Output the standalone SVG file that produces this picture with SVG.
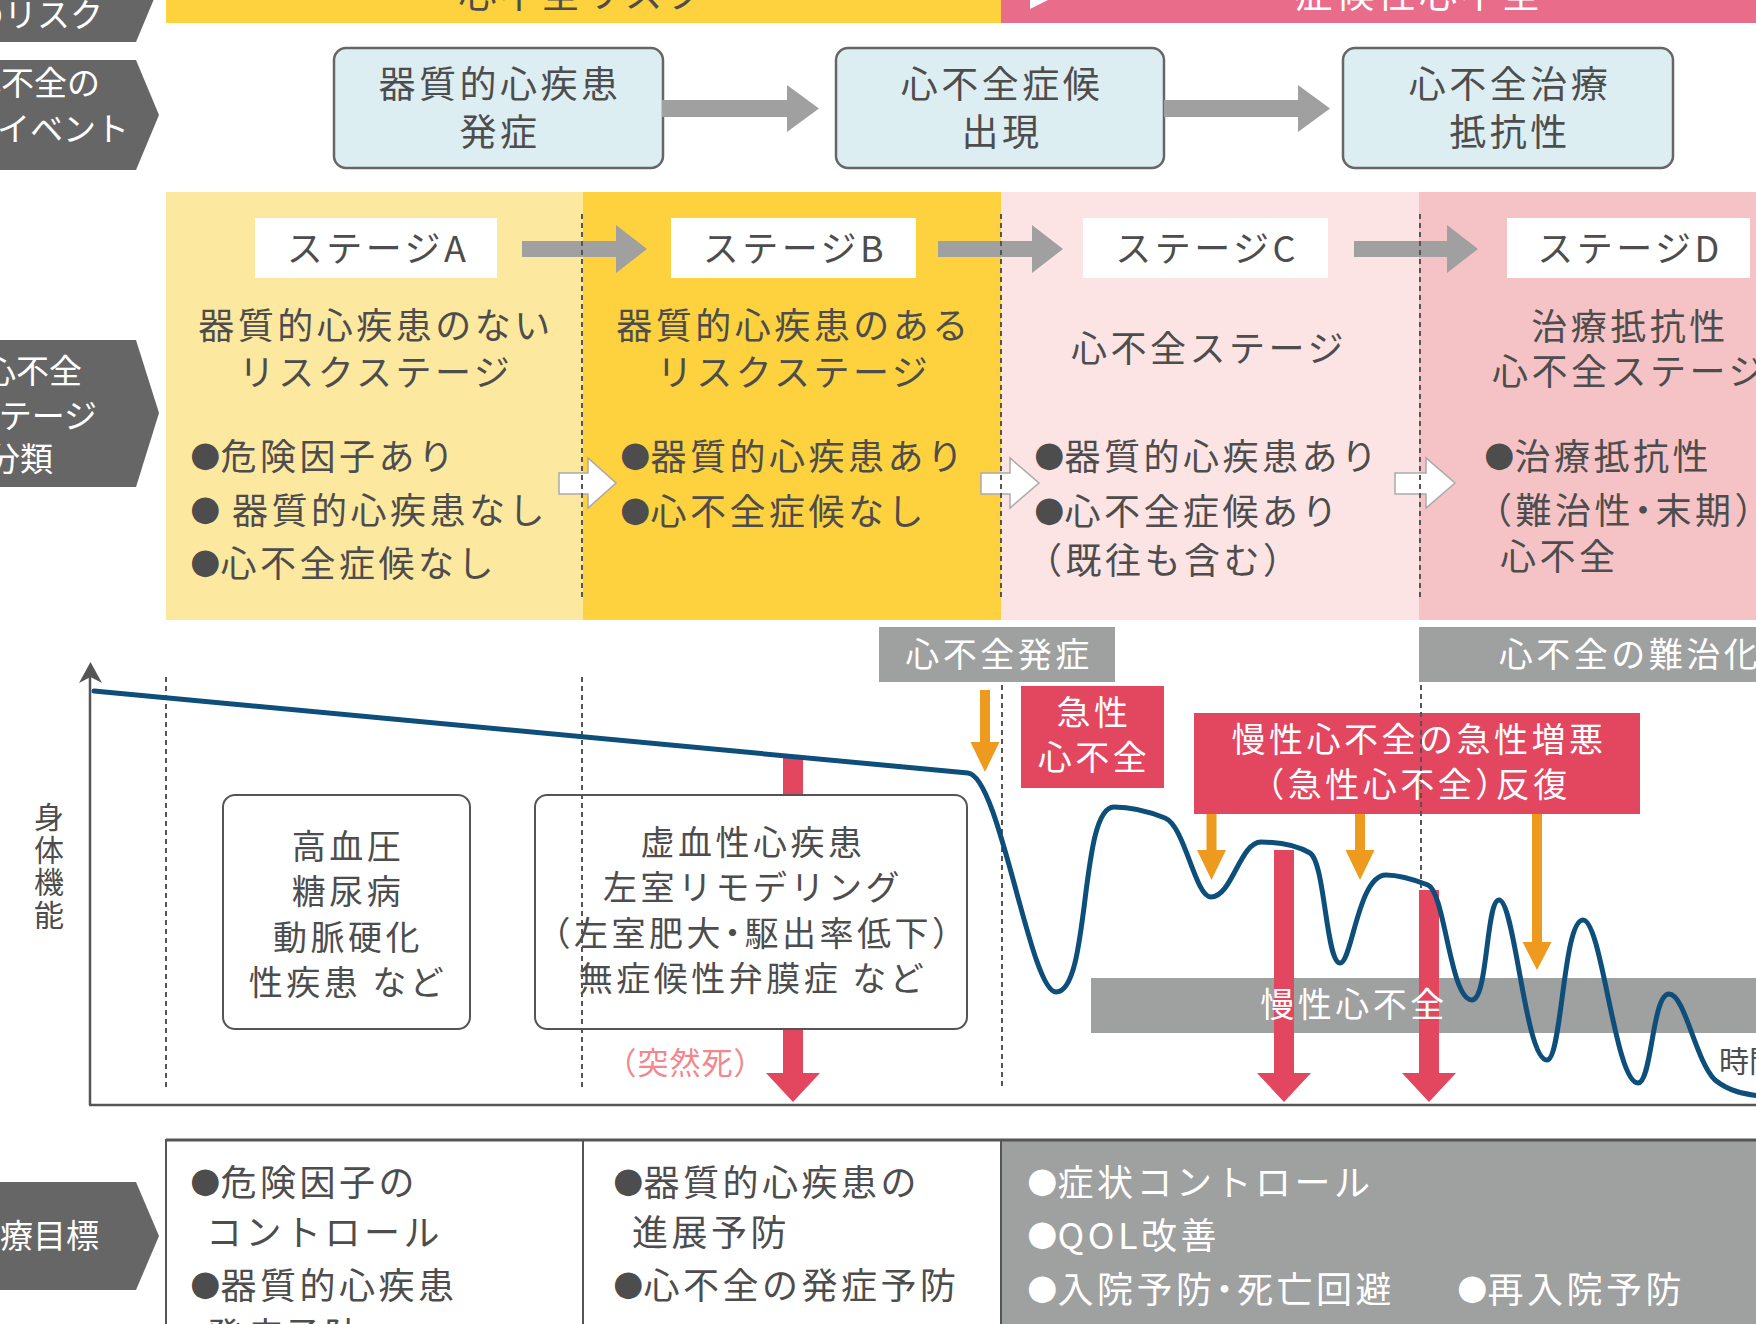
<svg xmlns="http://www.w3.org/2000/svg" width="1756" height="1324" viewBox="0 0 1756 1324">
<defs>
<style>
text{font-family:"Noto Sans CJK JP","Noto Sans CJK SC",sans-serif;fill:#4d4d4d}
.f37{font-size:37px;letter-spacing:3.5px}
.f36{font-size:36px;letter-spacing:3.5px}
.f34{font-size:34px;letter-spacing:3.5px}
.f30{font-size:30px}
.f33{font-size:33px}
.c{text-anchor:middle}
.e{text-anchor:end}
.w{fill:#fff}
.halt{font-feature-settings:"halt"}
.bl{font-family:"DejaVu Sans",sans-serif;font-size:35px;letter-spacing:0px}
.pent{fill:#666}
.evbox{fill:#ddeef3;stroke:#666;stroke-width:2.5}
.lbl{fill:#fff}
.garrow{fill:#a0a0a0}
.warrow{fill:#fff;stroke:#aaa;stroke-width:1.5}
.dot{stroke:#555;stroke-width:2;stroke-dasharray:5 4;fill:none}
.gband{fill:#9fa0a0}
.red{fill:#e3475f}
.org{fill:#ee9a1e}
.gbox{fill:#fff;stroke:#555;stroke-width:2}
</style>
</defs>

<!-- top bars -->
<g id="top-bars">
<rect x="166" y="0" width="835" height="23" fill="#fdd23e"/>
<rect x="1001" y="0" width="755" height="23" fill="#ea6c8b"/>
<polygon points="1030,0 1048,0 1030,9" fill="#fff"/>
<text class="f36 c" x="583" y="7" style="font-size:38px">心不全リスク</text>
<text class="f36 c w" x="1419" y="7" style="font-size:38px">症候性心不全</text>
</g>

<!-- left pentagon labels -->
<g id="label-risk">
<polygon class="pent" points="-10,-68 136,-68 159,-13 136,42 -10,42"/>
<text class="f33 e w" x="103" y="27">心不全のリスク</text>
</g>
<g id="label-event">
<polygon class="pent" points="-10,60 136,60 159,115 136,170 -10,170"/>
<text class="f33 e w" x="100" y="95">心不全の</text>
<text class="f33 e w" x="129" y="141">イベント</text>
</g>
<g id="label-stage">
<polygon class="pent" points="-10,340 136,340 159,413 136,487 -10,487"/>
<text class="f33 e w" x="82" y="383">心不全</text>
<text class="f33 e w" x="97" y="428">ステージ</text>
<text class="f33 e w" x="53" y="471">分類</text>
</g>
<g id="label-goal">
<polygon class="pent" points="-10,1182 136,1182 159,1236 136,1290 -10,1290"/>
<text class="f33 e w" x="99" y="1248">治療目標</text>
</g>

<!-- event boxes -->
<g id="event-1">
<rect class="evbox" x="334" y="48" width="329" height="120" rx="12"/>
<text class="f37 c" x="500" y="98">器質的心疾患</text>
<text class="f37 c" x="500" y="146">発症</text>
</g>
<g id="event-2">
<rect class="evbox" x="836" y="48" width="328" height="120" rx="12"/>
<text class="f37 c" x="1002" y="98">心不全症候</text>
<text class="f37 c" x="1002" y="146">出現</text>
</g>
<g id="event-3">
<rect class="evbox" x="1343" y="48" width="330" height="120" rx="12"/>
<text class="f37 c" x="1510" y="98">心不全治療</text>
<text class="f37 c" x="1510" y="146">抵抗性</text>
</g>

<!-- stage panels -->
<g id="stage-A">
<rect x="166" y="192" width="417" height="428" fill="#fde8a0"/>
<rect class="lbl" x="255" y="218" width="242" height="60"/>
<text class="f36 c" x="378" y="262">ステージA</text>
<text class="f36 c" x="376" y="339">器質的心疾患のない</text>
<text class="f36 c" x="376" y="386">リスクステージ</text>
<text class="f36" x="190" y="470"><tspan class="bl" dy="-4">●</tspan><tspan dy="4">危険因子あり</tspan></text>
<text class="f36" x="190" y="524"><tspan class="bl" dy="-4">●</tspan><tspan dy="4"> 器質的心疾患なし</tspan></text>
<text class="f36" x="190" y="577"><tspan class="bl" dy="-4">●</tspan><tspan dy="4">心不全症候なし</tspan></text>
</g>
<g id="stage-B">
<rect x="583" y="192" width="418" height="428" fill="#fdd23e"/>
<rect class="lbl" x="671" y="218" width="245" height="60"/>
<text class="f36 c" x="795" y="262">ステージB</text>
<text class="f36 c" x="794" y="339">器質的心疾患のある</text>
<text class="f36 c" x="794" y="386">リスクステージ</text>
<text class="f36" x="620" y="470"><tspan class="bl" dy="-4">●</tspan><tspan dy="4">器質的心疾患あり</tspan></text>
<text class="f36" x="620" y="525"><tspan class="bl" dy="-4">●</tspan><tspan dy="4">心不全症候なし</tspan></text>
</g>
<g id="stage-C">
<rect x="1001" y="192" width="418" height="428" fill="#fce4e5"/>
<rect class="lbl" x="1083" y="218" width="245" height="60"/>
<text class="f36 c" x="1207" y="262">ステージC</text>
<text class="f36 c" x="1209" y="362">心不全ステージ</text>
<text class="f36" x="1034" y="470"><tspan class="bl" dy="-4">●</tspan><tspan dy="4">器質的心疾患あり</tspan></text>
<text class="f36" x="1034" y="525"><tspan class="bl" dy="-4">●</tspan><tspan dy="4">心不全症候あり</tspan></text>
<text class="f36 halt" x="1044" y="574">（既往も含む）</text>
</g>
<g id="stage-D">
<rect x="1419" y="192" width="337" height="428" fill="#f5c3c6"/>
<rect class="lbl" x="1507" y="218" width="243" height="60"/>
<text class="f36 c" x="1630" y="262">ステージD</text>
<text class="f36 c" x="1630" y="340">治療抵抗性</text>
<text class="f36 c" x="1630" y="385">心不全ステージ</text>
<text class="f36" x="1484" y="470"><tspan class="bl" dy="-4">●</tspan><tspan dy="4">治療抵抗性</tspan></text>
<text class="f36 halt" x="1494" y="524">（難治性・末期）</text>
<text class="f36" x="1500" y="570">心不全</text>
</g>

<!-- graph boxes -->
<g id="box-risk">
<rect class="gbox" x="223" y="795" width="247" height="234" rx="12"/>
<text class="f34 c" x="348" y="859">高血圧</text>
<text class="f34 c" x="348" y="904">糖尿病</text>
<text class="f34 c" x="348" y="950">動脈硬化</text>
<text class="f34 c" x="348" y="995">性疾患 など</text>
</g>

<g id="red-arrow-sudden">
<path class="red" d="M783,758 H803 V1073 H820 L793,1102 L766,1073 H783 Z"/>
</g>

<g id="box-structural">
<rect class="gbox" x="535" y="795" width="432" height="234" rx="12"/>
<text class="f34 c" x="753" y="855">虚血性心疾患</text>
<text class="f34 c" x="753" y="900">左室リモデリング</text>
<text class="f34 c halt" x="753" y="946">（左室肥大・駆出率低下）</text>
<text class="f34 c" x="753" y="991">無症候性弁膜症 など</text>
</g>

<text class="halt" x="621" y="1074" style="font-size:31px;letter-spacing:1px;fill:#f2878d">（突然死）</text>

<!-- gray / red labels -->
<g id="band-onset">
<rect class="gband" x="879" y="627" width="236" height="55"/>
<text class="f34 c w" x="999" y="667">心不全発症</text>
</g>
<g id="band-refractory">
<rect class="gband" x="1419" y="627" width="337" height="55"/>
<text class="f34 c w" x="1630" y="667">心不全の難治化</text>
</g>
<g id="box-acute">
<rect class="red" x="1021" y="686" width="143" height="102"/>
<text class="f34 c w" x="1094" y="725">急性</text>
<text class="f34 c w" x="1094" y="770">心不全</text>
</g>
<g id="box-exacerbation">
<rect class="red" x="1194" y="713" width="446" height="101"/>
<text class="f34 c w" x="1419" y="752">慢性心不全の急性増悪</text>
<text class="f34 c w halt" x="1419" y="797">（急性心不全）反復</text>
</g>
<g id="band-chronic">
<rect class="gband" x="1091" y="978" width="665" height="55"/>
</g>

<!-- connectors -->
<g id="connectors">
<path class="garrow" d="M662,100 H787 V85 L819,108.5 L787,132 V117 H662 Z"/>
<path class="garrow" d="M1164,100 H1298 V85 L1330,108.5 L1298,132 V117 H1164 Z"/>
<path class="garrow" d="M522,241 H616 V225 L647,249 L616,273 V257 H522 Z"/>
<path class="garrow" d="M938,241 H1032 V225 L1063,249 L1032,273 V257 H938 Z"/>
<path class="garrow" d="M1354,241 H1447 V225 L1478,249 L1447,273 V257 H1354 Z"/>
<path class="warrow" d="M559,473 H588 V458 L616,483 L588,508 V494 H559 Z"/>
<path class="warrow" d="M981,473 H1010 V458 L1039,483 L1010,508 V494 H981 Z"/>
<path class="warrow" d="M1395,473 H1426 V458 L1455,483 L1426,508 V494 H1395 Z"/>
<line class="dot" x1="582" y1="214" x2="582" y2="598"/>
<line class="dot" x1="1001" y1="214" x2="1001" y2="598"/>
<line class="dot" x1="1420" y1="214" x2="1420" y2="598"/>
<line class="dot" x1="166" y1="677" x2="166" y2="1090"/>
<line class="dot" x1="582" y1="677" x2="582" y2="1090"/>
<line class="dot" x1="1002" y1="685" x2="1002" y2="1090"/>
<line class="dot" x1="1421" y1="685" x2="1421" y2="1090"/>
<path class="red" d="M1274,850 H1294 V1073 H1311 L1284,1102 L1257,1073 H1274 Z"/>
<path class="red" d="M1419,890 H1439 V1073 H1456 L1429,1102 L1402,1073 H1419 Z"/>
<line x1="90" y1="676" x2="90" y2="1105" stroke="#555" stroke-width="2.5"/>
<line x1="89" y1="1105" x2="1756" y2="1105" stroke="#555" stroke-width="2.5"/>
<polygon points="90.5,662 102,683 90.5,677 79,683" fill="#555"/>
</g>

<text class="f34 c w" x="1354" y="1017">慢性心不全</text>

<!-- physical function curve -->
<path id="curve" d="M94,691 L968,773 C1000,776 1030,992 1056,992 C1091,992 1079,807 1114,807 C1130,807 1150,812 1165,818 C1185,826 1195,897 1211,897 C1232,897 1240,842 1261,842 C1280,842 1298,846 1310,853 C1325,862 1326,963 1340,963 C1352,963 1358,875 1386,875 C1400,875 1415,880 1428,885 C1445,892 1450,1000 1472,1000 C1488,1000 1486,900 1499,900 C1515,900 1525,1060 1547,1060 C1562,1060 1563,920 1583,920 C1602,920 1615,1083 1638,1083 C1652,1083 1652,994 1669,994 C1685,994 1695,1060 1715,1080 C1730,1092 1745,1094 1760,1096" fill="none" stroke="#0d4e7a" stroke-width="5" stroke-linecap="round" stroke-linejoin="round"/>

<!-- orange arrows -->
<g id="orange-arrows">
<path class="org" d="M980,690 H990 V742 H999.5 L985,772 L970.5,742 H980 Z"/>
<path class="org" d="M1206.5,814 H1216.5 V850 H1226 L1211.5,880 L1197,850 H1206.5 Z"/>
<path class="org" d="M1355,814 H1365 V850 H1374.5 L1360,880 L1345.5,850 H1355 Z"/>
<path class="org" d="M1532,814 H1542 V942 H1551.5 L1537,970 L1522.5,942 H1532 Z"/>
</g>

<!-- axis labels -->
<g id="axis-labels">
<text class="f30" x="49" y="802" style="writing-mode:vertical-rl;letter-spacing:2.5px">身体機能</text>
<text class="f30" x="1719" y="1072">時間</text>
</g>

<!-- treatment goals table -->
<g id="goals">
<rect x="1001" y="1140" width="755" height="190" fill="#9fa0a0"/>
<rect x="166" y="1140" width="835" height="190" fill="#fff" stroke="#555" stroke-width="2"/>
<line x1="583" y1="1140" x2="583" y2="1330" stroke="#555" stroke-width="2"/>
<line x1="166" y1="1140" x2="1756" y2="1140" stroke="#555" stroke-width="3"/>
<text class="f36" x="190" y="1196"><tspan class="bl" dy="-4">●</tspan><tspan dy="4">危険因子の</tspan></text>
<text class="f36" x="206" y="1246">コントロール</text>
<text class="f36" x="190" y="1299"><tspan class="bl" dy="-4">●</tspan><tspan dy="4">器質的心疾患</tspan></text>
<text class="f36" x="206" y="1349">発症予防</text>
<text class="f36" x="613" y="1196"><tspan class="bl" dy="-4">●</tspan><tspan dy="4">器質的心疾患の</tspan></text>
<text class="f36" x="632" y="1246">進展予防</text>
<text class="f36" x="613" y="1299"><tspan class="bl" dy="-4">●</tspan><tspan dy="4">心不全の発症予防</tspan></text>
<text class="f36 w" x="1027" y="1196"><tspan class="bl w" dy="-4">●</tspan><tspan dy="4">症状コントロール</tspan></text>
<text class="f36 w" x="1027" y="1249"><tspan class="bl w" dy="-4">●</tspan><tspan dy="4">QOL改善</tspan></text>
<text class="f36 w halt" x="1027" y="1303"><tspan class="bl w" dy="-4">●</tspan><tspan dy="4">入院予防・死亡回避</tspan></text>
<text class="f36 w" x="1457" y="1303"><tspan class="bl w" dy="-4">●</tspan><tspan dy="4">再入院予防</tspan></text>
</g>
</svg>
